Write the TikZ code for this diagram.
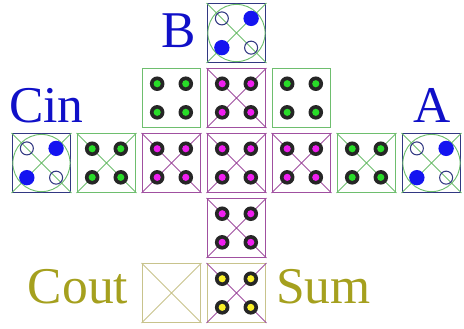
\documentclass[tikz,border=0pt]{standalone}
\usepackage{fontspec}
\setmainfont{Liberation Serif}
\usetikzlibrary{positioning}
\definecolor{navyline}{RGB}{50,56,130}
\definecolor{inblue}{RGB}{16,16,200}
\definecolor{dotblue}{RGB}{20,20,240}
\definecolor{greenline}{RGB}{110,190,110}
\definecolor{greendot}{RGB}{40,220,40}
\definecolor{purpline}{RGB}{160,80,160}
\definecolor{magdot}{RGB}{240,30,240}
\definecolor{oliveline}{RGB}{200,195,140}
\definecolor{olivetext}{RGB}{165,160,30}
\definecolor{yellowdot}{RGB}{250,240,40}

\begin{document}
\begin{tikzpicture}[x=1.95cm,y=1.95cm,
  cell/.style={draw,rectangle,minimum size=1.755cm,inner sep=0pt,line width=1.2pt},
  lbl/.style={font=\fontsize{44}{44}\selectfont,anchor=base,inner sep=0pt}]
  \useasboundingbox (0,0) rectangle (7.138,5.046);
  % cells
  \node[cell,navyline] (b) at (3.638,4.538) {};
  \node[cell,greenline] (gtl) at (2.638,3.538) {};
  \node[cell,purpline] (m1) at (3.638,3.538) {};
  \node[cell,greenline] (gtr) at (4.638,3.538) {};
  \node[cell,navyline] (cin) at (0.638,2.538) {};
  \node[cell,greenline] (g1) at (1.638,2.538) {};
  \node[cell,purpline] (m2) at (2.638,2.538) {};
  \node[cell,purpline] (m3) at (3.638,2.538) {};
  \node[cell,purpline] (m4) at (4.638,2.538) {};
  \node[cell,greenline] (g2) at (5.638,2.538) {};
  \node[cell,navyline] (a) at (6.638,2.538) {};
  \node[cell,purpline] (m5) at (3.638,1.538) {};
  \node[cell,oliveline] (cout) at (2.638,0.538) {};
  \node[cell,oliveline] (sum) at (3.638,0.538) {};
  % labels
  \node[lbl,inblue] (blbl) at (2.754,4.308) {B};
  \node[lbl,inblue] (cinlbl) at (0.715,3.154) {Cin};
  \node[lbl,inblue] (albl) at (6.646,3.154) {A};
  \node[lbl,olivetext] (coutlbl) at (1.2,0.384) {Cout};
  \node[lbl,olivetext] (sumlbl) at (4.977,0.384) {Sum};
  % diagonals
  \foreach \c/\col in {b/greenline,cin/greenline,a/greenline,g1/greenline,g2/greenline,
      m1/purpline,m2/purpline,m3/purpline,m4/purpline,m5/purpline,cout/oliveline,sum/purpline}
    \draw[\col,line width=0.8pt] (\c.north west) -- (\c.south east) (\c.north east) -- (\c.south west);
  % inputs
  \foreach \c in {b,cin,a} {
    \draw[greenline,line width=0.8pt] (\c) circle (0.44);
    \draw[navyline,line width=0.9pt,shift={(\c)}] (-0.225,0.225) circle (0.1) (0.225,-0.225) circle (0.1);
    \fill[dotblue,shift={(\c)}] (0.225,0.225) circle (0.118) (-0.225,-0.225) circle (0.118);
  }
  % dots
  \foreach \c/\col in {gtl/greendot,gtr/greendot,g1/greendot,g2/greendot,
      m1/magdot,m2/magdot,m3/magdot,m4/magdot,m5/magdot,sum/yellowdot}
    \foreach \dx/\dy in {-1/1,1/1,-1/-1,1/-1} {
      \fill[black!85,shift={(\c)}] (\dx*0.22,\dy*0.22) circle (0.112);
      \fill[\col,shift={(\c)}] (\dx*0.22,\dy*0.22) circle (0.055);
    }
\end{tikzpicture}
\end{document}
